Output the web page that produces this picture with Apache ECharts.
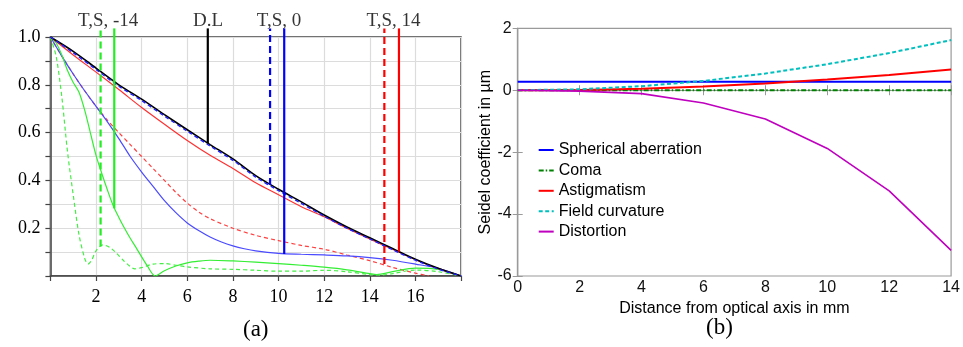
<!DOCTYPE html>
<html><head><meta charset="utf-8">
<script src="https://cdn.jsdelivr.net/npm/echarts@6/dist/echarts.min.js"></script>
<style>html,body{margin:0;padding:0;background:#fff}#c{width:963px;height:347px}</style>
</head><body><div id="c"></div>
<script>
// ---------- Panel (a): MTF curves ----------
const dlX = [0,1,2,3,4,5,6,7,8,9,10,11,12,13,14,15,16,17,18];
const dlY = [1,0.94,0.87,0.80,0.74,0.675,0.612,0.55,0.49,0.42,0.363,0.31,0.255,0.205,0.16,0.115,0.07,0.032,0];
const blueDashY = [1,0.934,0.864,0.794,0.734,0.669,0.606,0.544,0.484,0.414,0.357,0.304,0.25,0.2,0.155,0.11,0.066,0.029,0];
const redSolidY = [1,0.925,0.853,0.78,0.705,0.635,0.567,0.505,0.45,0.39,0.34,0.29,0.248,0.2,0.155,0.112,0.068,0.031,0];

const blueSolidX = [0,0.5,1,1.5,2,2.5,3,3.5,4,4.5,5,5.5,6,6.5,7,7.5,8,8.5,9,10,11,12,13,14,15,16,17,18];
const blueSolidY = [1,0.92,0.845,0.775,0.71,0.645,0.575,0.5,0.435,0.375,0.315,0.265,0.222,0.19,0.163,0.142,0.126,0.114,0.105,0.095,0.091,0.088,0.084,0.077,0.066,0.05,0.032,0];

const redDashX = [0,0.5,1,1.5,2,2.5,3,3.5,4,4.5,5,5.5,6,6.5,7,8,9,10,11,12,13,14,15,16,16.6];
const redDashY = [1,0.92,0.845,0.775,0.71,0.652,0.6,0.55,0.5,0.45,0.4,0.35,0.305,0.268,0.24,0.2,0.17,0.148,0.128,0.112,0.088,0.064,0.036,0.012,0];

const greenSolidX = [0,0.25,0.5,0.75,1,1.25,1.5,1.75,2,2.25,2.5,2.75,3,3.25,3.5,3.75,4,4.25,4.6,5,5.5,6,6.5,7,8,9,10,11,12,13,14,14.3,15,16,17,18];
const greenSolidY = [1,0.975,0.925,0.86,0.81,0.77,0.695,0.6,0.505,0.43,0.36,0.295,0.245,0.2,0.158,0.12,0.08,0.042,0,0.022,0.042,0.055,0.062,0.066,0.063,0.058,0.052,0.045,0.037,0.026,0.01,0.006,0.018,0.033,0.028,0];

const greenDashX = [0,0.25,0.5,0.75,1,1.25,1.5,1.65,1.8,2,2.3,2.6,2.9,3.2,3.5,3.7,4,4.5,5,5.5,6,7,8,9,10,11,12,13,14,14.5,15,16,17,18];
const greenDashY = [1,0.92,0.75,0.52,0.34,0.175,0.075,0.05,0.065,0.105,0.13,0.12,0.095,0.065,0.04,0.03,0.035,0.05,0.052,0.045,0.038,0.03,0.028,0.024,0.02,0.02,0.024,0.018,0.006,0.004,0.01,0.025,0.018,0];

// vertical markers
const markerX      = [2.2, 2.8, 6.9, 9.63, 10.25, 14.64, 15.28];
const markerBottom = [0.123, 0.283, 0.555, 0.381, 0.092, 0.05, 0.102];
const markerTop    = 1.036;
const markerColor  = ['#22ee22','#22ee22','#000000','#0000ff','#0000ff','#ff0000','#ff0000'];
const markerDash   = [true, false, false, true, false, true, false];
const markerLabels = ['T,S, -14','D.L','T,S, 0','T,S, 14'];
const labelX       = [2.53, 6.91, 10.02, 15.04];
const labelY       = 1.068;

// ---------- Panel (b): Seidel coefficients ----------
const seidelX = [0,2,4,6,8,10,12,14];
const spherical = [0.27,0.27,0.27,0.27,0.27,0.27,0.27,0.27];
const coma = [0,0,0,0,0,0,0,0];
const astig = [0,0.01,0.05,0.12,0.22,0.35,0.49,0.67];
const fieldCurv = [0,0.03,0.13,0.3,0.54,0.84,1.2,1.62];
const distortion = [0,-0.03,-0.11,-0.41,-0.93,-1.88,-3.25,-5.17];
const seidelNames = ['Spherical aberration','Coma','Astigmatism','Field curvature','Distortion'];

const zip = (xs, ys) => xs.map((x, i) => [x, ys[i]]);
const SERIF = 'Liberation Serif';
const SANS = 'Liberation Sans';

const chart = echarts.init(document.getElementById('c'), null, {renderer: 'canvas'});

const series = [];
function curve(name, xs, ys, color, dashed, width) {
  series.push({
    type: 'line', xAxisIndex: 0, yAxisIndex: 0, data: zip(xs, ys),
    showSymbol: false, smooth: 0.3, silent: true, z: 3,
    lineStyle: {color: color, width: width || 1.2, type: dashed ? [4, 3] : 'solid'}
  });
}
curve('rd', redDashX, redDashY, '#ff4040', true);
curve('bs', blueSolidX, blueSolidY, '#4a4aff', false);
curve('gs', greenSolidX, greenSolidY, '#33ee33', false);
curve('gd', greenDashX, greenDashY, '#44ee44', true);
curve('rs', dlX, redSolidY, '#ff3030', false);
curve('dl', dlX, dlY, '#000000', false, 1.6);
curve('bd', dlX, blueDashY, '#2020ff', true, 1.4);

markerX.forEach((x, i) => {
  series.push({
    type: 'line', xAxisIndex: 0, yAxisIndex: 0, clip: false, silent: true, z: 4,
    showSymbol: false, data: [[x, markerBottom[i]], [x, markerTop]],
    lineStyle: {color: markerColor[i], width: 2.2, type: markerDash[i] ? [7, 4] : 'solid'}
  });
});

series.push({
  type: 'scatter', xAxisIndex: 0, yAxisIndex: 0, clip: false, silent: true,
  symbolSize: 0,
  data: labelX.map((x, i) => [x, labelY, markerLabels[i]]),
  label: {show: true, position: 'inside', formatter: p => p.value[2],
          fontFamily: SERIF, fontSize: 19, color: '#000'}
});

// right panel
const rs = [
  {d: spherical, c: '#0000ff', t: 'solid', w: 2},
  {d: coma, c: '#008000', t: [5, 2, 1.5, 2], w: 2},
  {d: astig, c: '#ff0000', t: 'solid', w: 2},
  {d: fieldCurv, c: '#00bfbf', t: [4, 2.5], w: 2},
  {d: distortion, c: '#bf00bf', t: 'solid', w: 1.6}
];
rs.forEach((s, i) => {
  series.push({
    name: seidelNames[i], type: 'line', xAxisIndex: 1, yAxisIndex: 1,
    data: zip(seidelX, s.d), showSymbol: false, symbol: 'none', silent: true,
    lineStyle: {color: s.c, width: s.w, type: s.t}, itemStyle: {color: s.c}
  });
});

const leftAxisCol = '#444';
const rightAxisCol = '#9a9a9a';

chart.setOption({
  animation: false,
  backgroundColor: '#fff',
  grid: [
    {left: 50.4, top: 37, width: 410.6, height: 239, show: true, borderColor: leftAxisCol, borderWidth: 1.5, backgroundColor: 'transparent'},
    {left: 517.7, top: 28.3, width: 435.3, height: 247.7, show: true, borderColor: rightAxisCol, borderWidth: 1.2, backgroundColor: 'transparent'}
  ],
  legend: {
    data: seidelNames, orient: 'vertical', left: 537.7, top: 142,
    itemWidth: 15, itemHeight: 14, itemGap: 4.4, padding: 0,
    itemStyle: {opacity: 0},
    textStyle: {fontFamily: SANS, fontSize: 16, color: '#000', lineHeight: 16},
    selectedMode: false
  },
  xAxis: [
    {gridIndex: 0, type: 'value', min: 0, max: 18, interval: 2,
     axisLine: {lineStyle: {color: leftAxisCol, width: 1.5}},
     axisTick: {show: true, inside: false, length: 5, lineStyle: {color: leftAxisCol, width: 1.2}},
     axisLabel: {fontFamily: SERIF, fontSize: 18, color: '#000', margin: 12,
                 formatter: v => (v === 0 || v === 18) ? '' : String(v)},
     splitLine: {show: true, lineStyle: {color: '#dcdcdc', width: 1.2}}},
    {gridIndex: 1, type: 'value', min: 0, max: 14, interval: 2,
     name: 'Distance from optical axis in mm', nameLocation: 'middle', nameGap: 18,
     nameTextStyle: {fontFamily: SANS, fontSize: 16, color: '#000'},
     axisLine: {lineStyle: {color: rightAxisCol, width: 1.2}},
     axisTick: {show: true, inside: true, length: 5, lineStyle: {color: rightAxisCol}},
     axisLabel: {fontFamily: SANS, fontSize: 16, color: '#111', margin: 4},
     splitLine: {show: false}},
    {gridIndex: 1, type: 'value', min: 0, max: 14, interval: 2, position: 'top',
     axisLine: {lineStyle: {color: rightAxisCol, width: 1.2}},
     axisTick: {show: true, inside: true, length: 5, lineStyle: {color: rightAxisCol}},
     axisLabel: {show: false}, splitLine: {show: false}}
  ],
  yAxis: [
    {gridIndex: 0, type: 'value', min: 0, max: 1, interval: 0.1,
     axisLine: {show: true, lineStyle: {color: leftAxisCol, width: 1.5}},
     axisTick: {show: true, inside: false, length: 5, lineStyle: {color: leftAxisCol, width: 1.2}},
     axisLabel: {fontFamily: SERIF, fontSize: 18, color: '#000', margin: 10,
                 formatter: v => { const k = Math.round(v * 10); return (k > 0 && k % 2 === 0) ? (k / 10).toFixed(1) : ''; }},
     splitLine: {show: true, lineStyle: {color: '#dcdcdc', width: 1.2}}},
    {gridIndex: 1, type: 'value', min: -6, max: 2, interval: 2,
     name: 'Seidel coefficient in µm', nameLocation: 'middle', nameGap: 22,
     nameTextStyle: {fontFamily: SANS, fontSize: 16, color: '#000'},
     axisLine: {show: true, lineStyle: {color: rightAxisCol, width: 1.2}},
     axisTick: {show: true, inside: true, length: 5, lineStyle: {color: rightAxisCol}},
     axisLabel: {fontFamily: SANS, fontSize: 16, color: '#111', margin: 6},
     splitLine: {show: false}},
    {gridIndex: 1, type: 'value', min: -6, max: 2, interval: 2, position: 'right',
     axisLine: {show: true, lineStyle: {color: rightAxisCol, width: 1.2}},
     axisTick: {show: true, inside: true, length: 5, lineStyle: {color: rightAxisCol}},
     axisLabel: {show: false}, splitLine: {show: false}}
  ],
  graphic: [
    {type: 'text', left: 243, top: 318, style: {text: '(a)', fontFamily: SERIF, fontSize: 23, fill: '#000'}},
    {type: 'text', left: 706, top: 316, style: {text: '(b)', fontFamily: SERIF, fontSize: 23, fill: '#000'}}
  ],
  series: series
});
</script>
</body></html>
